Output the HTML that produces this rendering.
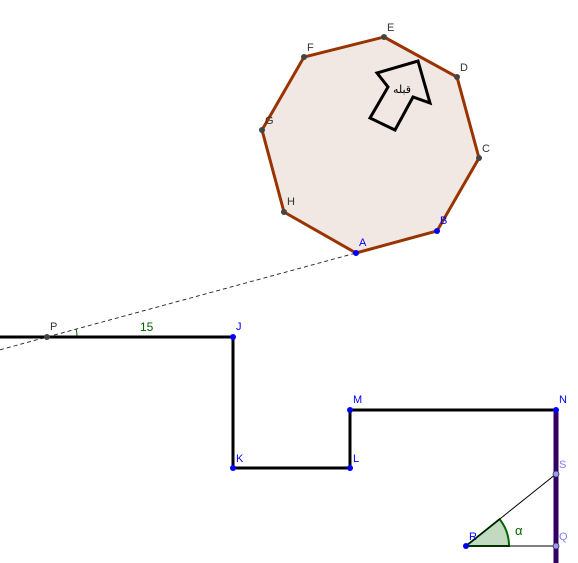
<!DOCTYPE html>
<html><head><meta charset="utf-8"><style>
html,body{margin:0;padding:0;background:#fff;}
svg{display:block;font-family:"Liberation Sans","DejaVu Sans",sans-serif;}
</style></head><body>
<svg width="578" height="563" viewBox="0 0 578 563">
<line x1="0" y1="349.8" x2="356" y2="253" stroke="#222" stroke-width="0.9" stroke-dasharray="4,3"/>
<polygon points="384,37 457,77 479,158 437,231 356,253 284,212 262,130 304,57" fill="#f2e8e3" stroke="#993300" stroke-width="3"/>
<polygon points="418,61 430,103 413,97 395,130 370,118 388,87 377,73" fill="none" stroke="#000" stroke-width="3" stroke-linejoin="miter"/>
<text x="402" y="93" font-size="11" text-anchor="middle" font-family="'DejaVu Sans',sans-serif">قبله</text>
<path d="M47,337 L77,337 A30,30 0 0 0 76.0,328.8" fill="none" stroke="#006400" stroke-width="1"/>
<polyline points="0,337 233,337 233,468 350,468 350,410 556,410" fill="none" stroke="#000" stroke-width="3"/>
<line x1="556" y1="410" x2="556" y2="563" stroke="#330066" stroke-width="5"/>
<path d="M466,546 L509,546 A43,43 0 0 0 499.6,519.1 Z" fill="#c2d9c2" stroke="#006400" stroke-width="2"/>
<line x1="466" y1="546" x2="556" y2="474" stroke="#000" stroke-width="1"/>
<line x1="466" y1="546" x2="556" y2="546" stroke="#000" stroke-width="1"/>
<text x="515" y="535" font-size="13" fill="#006400">α</text>
<text x="140" y="331" font-size="12" fill="#006400">15</text>
<g font-size="11" fill="#333">
<circle cx="384" cy="37" r="3" fill="#444"/><text x="387" y="31">E</text>
<circle cx="457" cy="77" r="3" fill="#444"/><text x="460" y="71">D</text>
<circle cx="479" cy="158" r="3" fill="#444"/><text x="482" y="152">C</text>
<circle cx="284" cy="212" r="3" fill="#444"/><text x="287" y="205">H</text>
<circle cx="262" cy="130" r="3" fill="#444"/><text x="265" y="124">G</text>
<circle cx="304" cy="57" r="3" fill="#444"/><text x="307" y="51">F</text>
<circle cx="47" cy="337" r="3" fill="#444"/><text x="50" y="330">P</text>
</g>
<g font-size="11" fill="#0000ff">
<circle cx="437" cy="231" r="3" fill="#0000ff"/><text x="440" y="224">B</text>
<circle cx="356" cy="253" r="3" fill="#0000ff"/><text x="359" y="246">A</text>
<circle cx="233" cy="337" r="3" fill="#0000ff"/><text x="236" y="330">J</text>
<circle cx="233" cy="468" r="3" fill="#0000ff"/><text x="236" y="462">K</text>
<circle cx="350" cy="468" r="3" fill="#0000ff"/><text x="353" y="462">L</text>
<circle cx="350" cy="410" r="3" fill="#0000ff"/><text x="353" y="403">M</text>
<circle cx="556" cy="410" r="3" fill="#0000ff"/><text x="559" y="403">N</text>
<circle cx="466" cy="546" r="3" fill="#0000ff"/><text x="469" y="540">R</text>
</g>
<g font-size="11" fill="#8080ff">
<circle cx="556" cy="474" r="3" fill="#9999ff" stroke="#333" stroke-width="0.8"/><text x="559" y="468">S</text>
<circle cx="556" cy="546" r="3" fill="#9999ff" stroke="#333" stroke-width="0.8"/><text x="559" y="540">Q</text>
</g>
</svg>
</body></html>
